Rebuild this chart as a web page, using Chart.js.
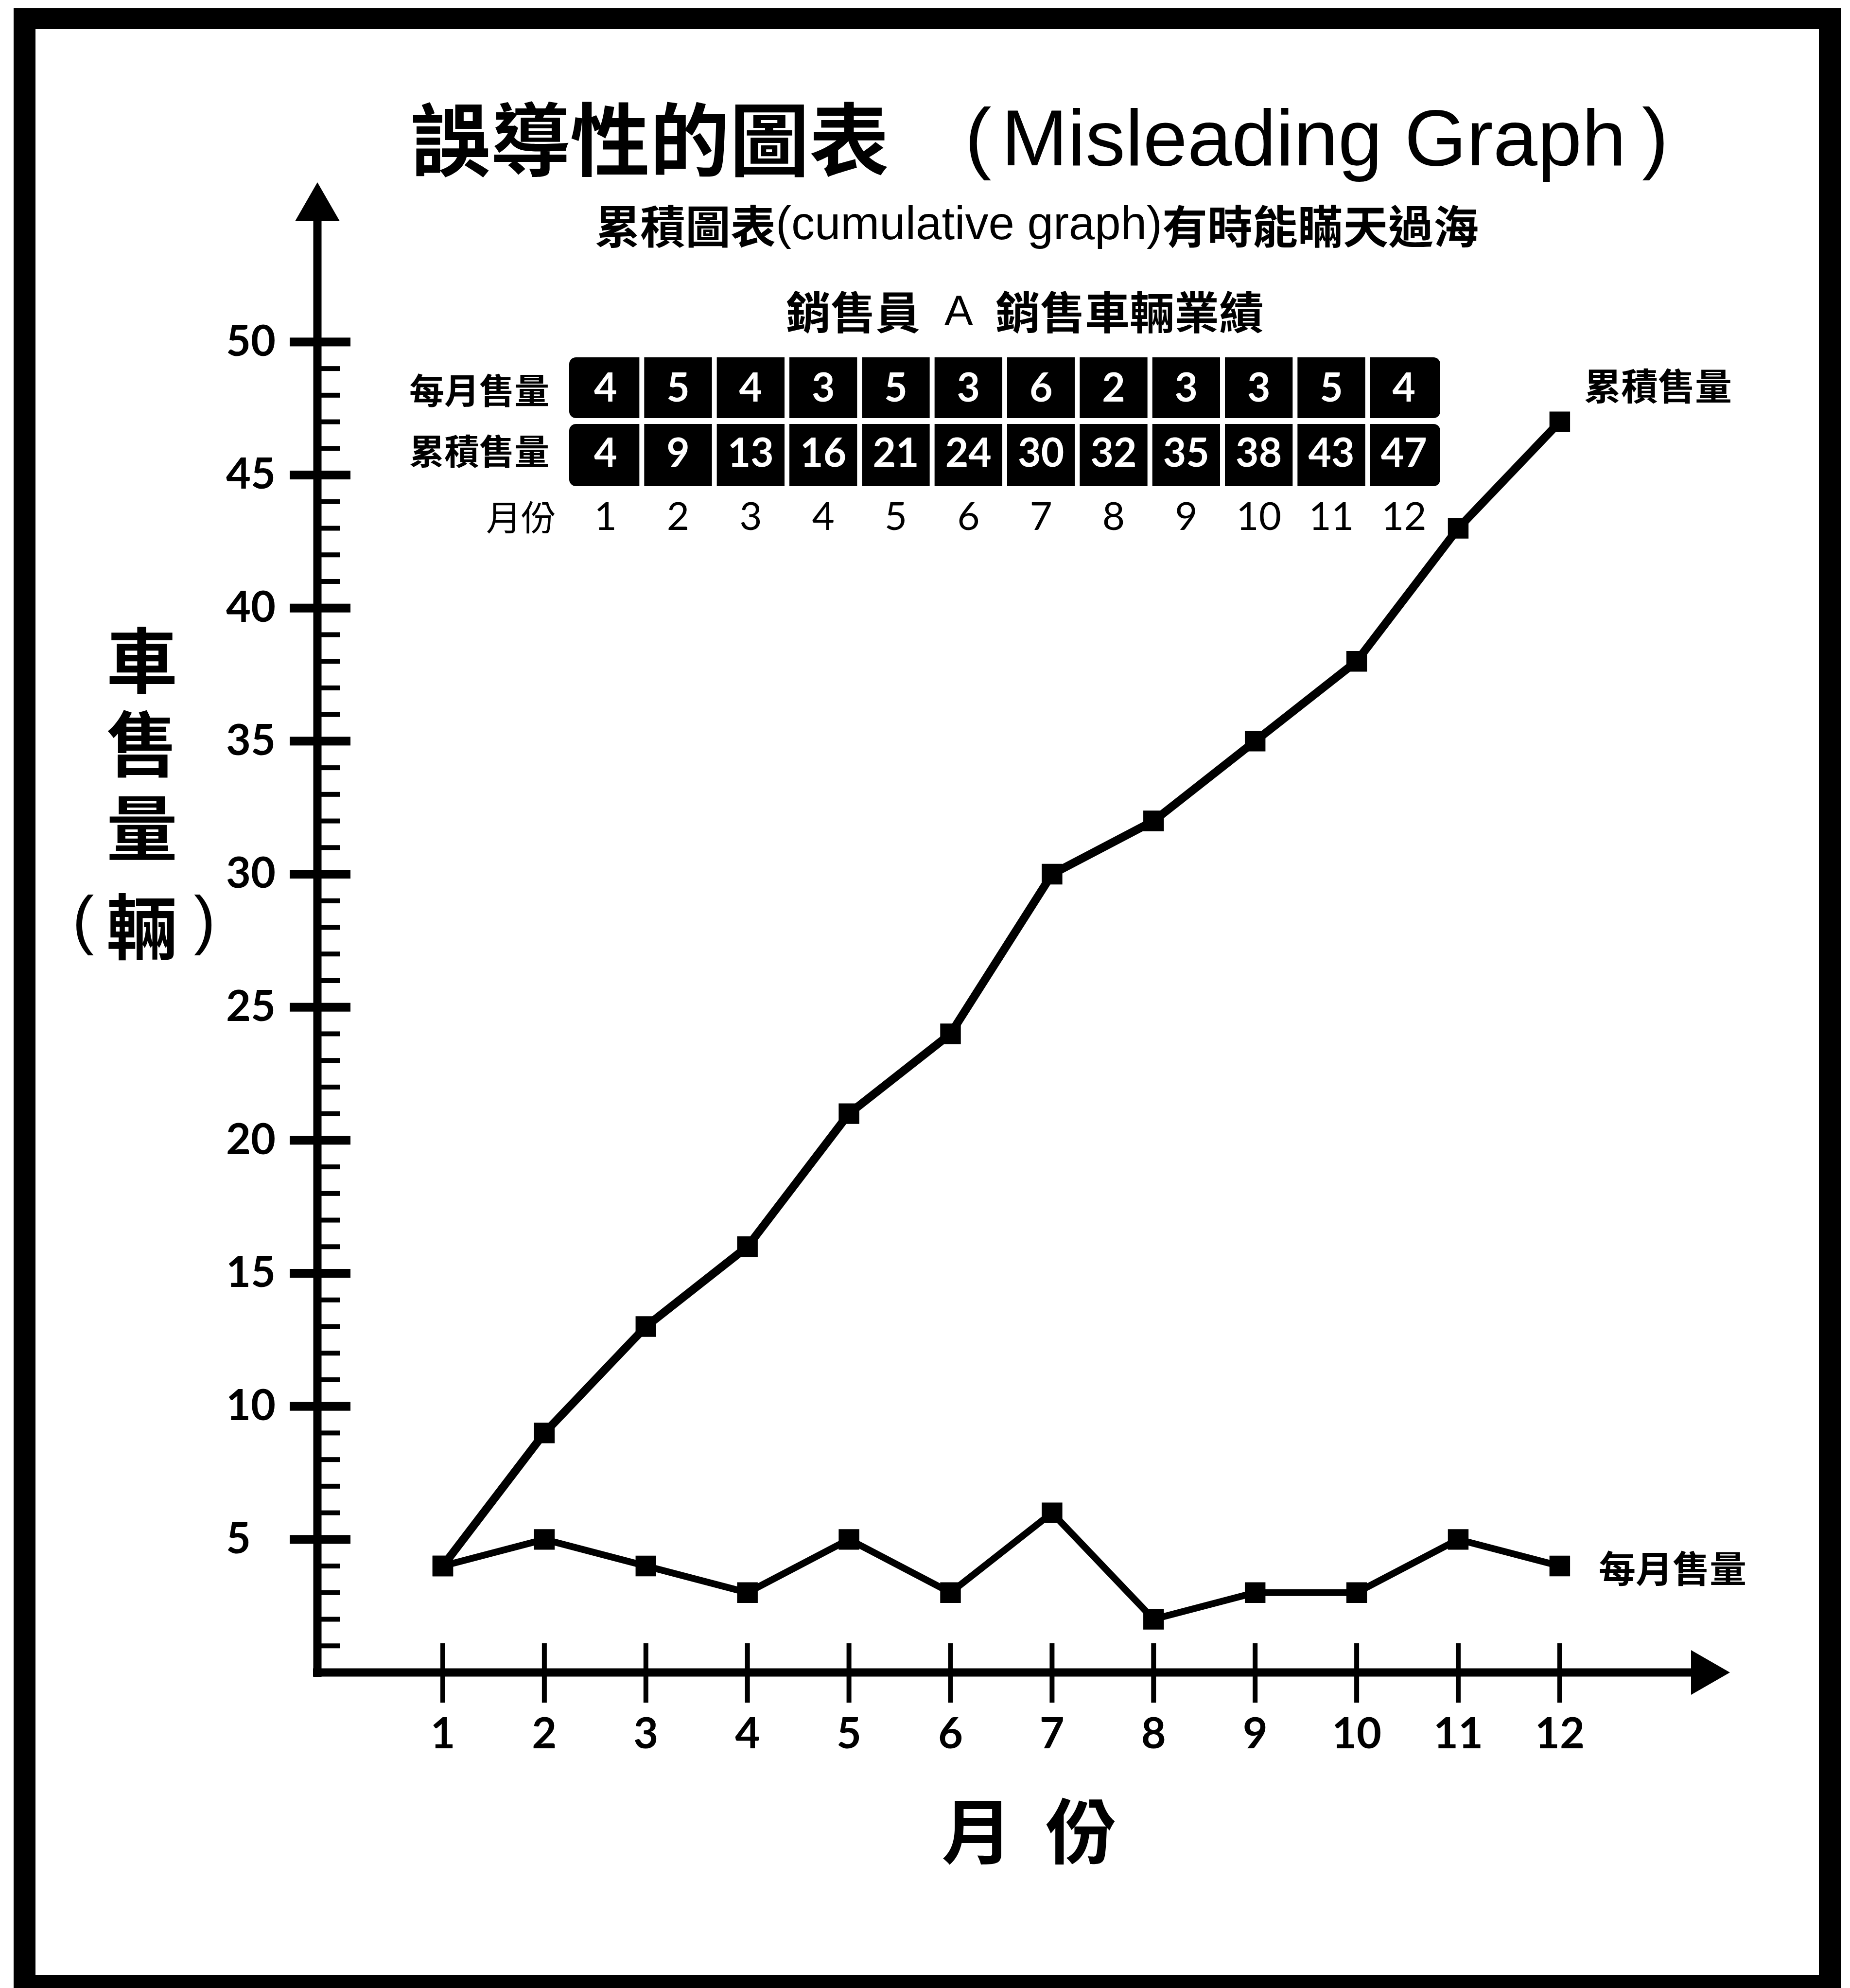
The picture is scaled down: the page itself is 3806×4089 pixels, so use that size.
<!DOCTYPE html>
<html>
<head>
<meta charset="utf-8">
<title>誤導性的圖表 (Misleading Graph)</title>
<script src="https://cdn.jsdelivr.net/npm/chart.js@4.4.0/dist/chart.umd.min.js"></script>
<style>
  html, body { margin: 0; padding: 0; background: #fff; }
  #myChart { display: block; }
</style>
</head>
<body>
<canvas id="myChart" width="3806" height="4089"></canvas>
<script>
// data
const months = [1, 2, 3, 4, 5, 6, 7, 8, 9, 10, 11, 12];
const monthlySales = [4, 5, 4, 3, 5, 3, 6, 2, 3, 3, 5, 4];
const cumulativeSales = [4, 9, 13, 16, 21, 24, 30, 32, 35, 38, 43, 47];
const yTickLabels = [5, 10, 15, 20, 25, 30, 35, 40, 45, 50];
const seriesNames = ['累積售量', '每月售量'];
const rowNames = ['每月售量', '累積售量', '月份'];

const CJK = "'Noto Sans CJK TC', 'Noto Sans CJK SC', sans-serif";
const LAT = "'Liberation Sans', Arial, sans-serif";
const NUM = "Lato, 'Open Sans', sans-serif";

function toPoints(values) {
    return months.map((m, i) => ({ x: m, y: values[i] }));
}

// frame + white paper
const paperPlugin = {
    id: 'paper',
    beforeDraw(chart) {
        const ctx = chart.ctx;
        ctx.save();
        ctx.fillStyle = '#fff';
        ctx.fillRect(0, 0, chart.width, chart.height);
        ctx.fillStyle = '#000';
        ctx.fillRect(28, 17, 3787 - 28, chart.height - 17);
        ctx.fillStyle = '#fff';
        ctx.fillRect(73, 60, 3742 - 73, 4062 - 60);
        ctx.restore();
    }
};

// hand drawn looking axes with arrows and ticks
const axesPlugin = {
    id: 'arrowAxes',
    beforeDatasetsDraw(chart) {
        const ctx = chart.ctx;
        const xs = chart.scales.x, ys = chart.scales.y;
        const ax = chart.chartArea.left;
        const ay = ys.getPixelForValue(0);
        const tipY = chart.chartArea.top;
        const tipX = chart.chartArea.right;
        ctx.save();
        ctx.fillStyle = '#000';
        ctx.strokeStyle = '#000';
        ctx.lineWidth = 17;
        // y axis
        ctx.beginPath();
        ctx.moveTo(ax, ay + 9);
        ctx.lineTo(ax, tipY + 70);
        ctx.stroke();
        ctx.beginPath();
        ctx.moveTo(ax, tipY);
        ctx.lineTo(ax - 46, tipY + 80);
        ctx.lineTo(ax + 46, tipY + 80);
        ctx.closePath();
        ctx.fill();
        // x axis
        ctx.beginPath();
        ctx.moveTo(ax - 9, ay);
        ctx.lineTo(tipX - 70, ay);
        ctx.stroke();
        ctx.beginPath();
        ctx.moveTo(tipX, ay);
        ctx.lineTo(tipX - 80, ay - 46);
        ctx.lineTo(tipX - 80, ay + 46);
        ctx.closePath();
        ctx.fill();
        // y ticks: big ones every 5, small ones every 1
        for (let v = 1; v <= yTickLabels[yTickLabels.length - 1]; v++) {
            const py = ys.getPixelForValue(v);
            if (yTickLabels.includes(v)) {
                ctx.fillRect(ax - 57, py - 9, 125, 18);
            } else {
                ctx.fillRect(ax, py - 5, 46, 10);
            }
        }
        // x ticks
        months.forEach(m => {
            const px = xs.getPixelForValue(m);
            ctx.fillRect(px - 5, ay - 60, 10, 122);
        });

        // axis titles
        ctx.textAlign = 'center';
        ctx.textBaseline = 'middle';
        ctx.font = 'bold 146px ' + CJK;
        ctx.fillText('車', 292, 1358);
        ctx.fillText('售', 292, 1530);
        ctx.fillText('量', 292, 1703);
        ctx.fillText('輛', 292, 1906);
        ctx.font = '134px ' + LAT;
        ctx.fillText('(', 171, 1900);
        ctx.fillText(')', 421, 1900);
        ctx.font = 'bold 146px ' + CJK;
        ctx.fillText('月', 2010, 3766);
        ctx.fillText('份', 2224, 3766);
        ctx.restore();
    }
};

// text at the end of each line
const endLabelPlugin = {
    id: 'endLabels',
    afterDatasetsDraw(chart) {
        const ctx = chart.ctx;
        const offsets = [[50, -73], [80, 5]];
        ctx.save();
        ctx.fillStyle = '#000';
        ctx.font = 'bold 76px ' + CJK;
        ctx.textAlign = 'left';
        ctx.textBaseline = 'middle';
        chart.data.datasets.forEach((ds, i) => {
            const meta = chart.getDatasetMeta(i);
            const pt = meta.data[meta.data.length - 1];
            ctx.fillText(ds.label, pt.x + offsets[i][0], pt.y + offsets[i][1]);
        });
        ctx.restore();
    }
};

// titles and the little table on top
const headerPlugin = {
    id: 'header',
    afterDraw(chart) {
        const ctx = chart.ctx;
        ctx.save();
        ctx.fillStyle = '#000';
        ctx.textAlign = 'left';
        ctx.textBaseline = 'middle';
        ctx.font = 'bold 164px ' + CJK;
        ctx.fillText('誤導性的圖表', 845, 287);
        ctx.textBaseline = 'alphabetic';
        ctx.font = '164px ' + LAT;
        ctx.fillText('(', 1985, 337);
        ctx.fillText('Misleading Graph', 2060, 340);
        ctx.fillText(')', 3378, 337);

        // subtitle, centred
        const parts = [
            { text: '累積圖表', font: 'bold 93px ' + CJK },
            { text: '(cumulative graph)', font: '96px ' + LAT },
            { text: '有時能瞞天過海', font: 'bold 93px ' + CJK }
        ];
        let total = 0;
        parts.forEach(p => { ctx.font = p.font; p.w = ctx.measureText(p.text).width; total += p.w; });
        let x = 2133 - total / 2;
        ctx.textBaseline = 'middle';
        parts.forEach(p => { ctx.font = p.font; ctx.fillText(p.text, x, 466); x += p.w; });

        ctx.font = 'bold 92px ' + CJK;
        ctx.fillText('銷售員', 1617, 642);
        ctx.fillText('銷售車輛業績', 2048, 642);
        ctx.font = '88px ' + LAT;
        ctx.fillText('A', 1943, 645);

        // table
        const left = 1171, right = 2963;
        const colW = (right - left) / months.length;
        const rows = [[735, 860], [872, 1000]];
        rows.forEach(r => {
            ctx.fillStyle = '#000';
            ctx.beginPath();
            ctx.roundRect(left, r[0], right - left, r[1] - r[0], 14);
            ctx.fill();
            ctx.fillStyle = '#fff';
            for (let k = 1; k < months.length; k++) {
                ctx.fillRect(left + colW * k - 5, r[0], 10, r[1] - r[0]);
            }
        });
        ctx.textAlign = 'center';
        ctx.fillStyle = '#fff';
        ctx.font = 'bold 82px ' + NUM;
        months.forEach((m, i) => {
            const cx = left + colW * (i + 0.5);
            ctx.fillText(String(monthlySales[i]), cx, 800);
            ctx.fillText(String(cumulativeSales[i]), cx, 934);
        });
        ctx.fillStyle = '#000';
        ctx.font = '80px ' + NUM;
        months.forEach((m, i) => {
            ctx.fillText(String(m), left + colW * (i + 0.5), 1064);
        });
        ctx.textAlign = 'right';
        ctx.font = 'bold 72px ' + CJK;
        ctx.fillText(rowNames[0], 1130, 803);
        ctx.fillText(rowNames[1], 1130, 928);
        ctx.font = '72px ' + CJK;
        ctx.fillText(rowNames[2], 1144, 1064);
        ctx.restore();
    }
};

const data = {
    datasets: [{
        label: seriesNames[0],
        data: toPoints(cumulativeSales),
        borderColor: '#000',
        backgroundColor: '#000',
        borderWidth: 17,
        pointStyle: 'rect',
        pointRadius: 30,
        pointBorderWidth: 0,
        pointBackgroundColor: '#000',
        tension: 0
    }, {
        label: seriesNames[1],
        data: toPoints(monthlySales),
        borderColor: '#000',
        backgroundColor: '#000',
        borderWidth: 14,
        pointStyle: 'rect',
        pointRadius: 30,
        pointBorderWidth: 0,
        pointBackgroundColor: '#000',
        tension: 0
    }]
};

const config = {
    type: 'line',
    data: data,
    options: {
        responsive: false,
        animation: false,
        events: [],
        layout: { autoPadding: false, padding: { left: 465, right: 247, top: 375, bottom: 0 } },
        plugins: {
            legend: { display: false },
            title: { display: false },
            tooltip: { enabled: false }
        },
        scales: {
            x: {
                type: 'linear',
                position: 'bottom',
                min: -0.235,
                max: 13.676,
                grid: { display: false, drawTicks: false },
                border: { display: false },
                ticks: {
                    stepSize: 1,
                    autoSkip: false,
                    maxRotation: 0,
                    padding: 75,
                    color: '#000',
                    font: { family: NUM, size: 88, weight: 'bold' },
                    callback: v => months.includes(v) ? String(v) : ''
                },
                afterFit: s => { s.height = 649; }
            },
            y: {
                type: 'linear',
                position: 'left',
                min: 0,
                max: 56,
                grid: { display: false, drawTicks: false },
                border: { display: false },
                ticks: {
                    stepSize: 5,
                    autoSkip: false,
                    crossAlign: 'far',
                    padding: 0,
                    color: '#000',
                    font: { family: NUM, size: 88, weight: 'bold' },
                    callback: v => yTickLabels.includes(v) ? String(v) : ''
                },
                afterFit: s => { s.width = 188; }
            }
        }
    },
    plugins: [paperPlugin, axesPlugin, endLabelPlugin, headerPlugin]
};

const myChart = new Chart(document.getElementById('myChart'), config);
</script>
</body>
</html>
